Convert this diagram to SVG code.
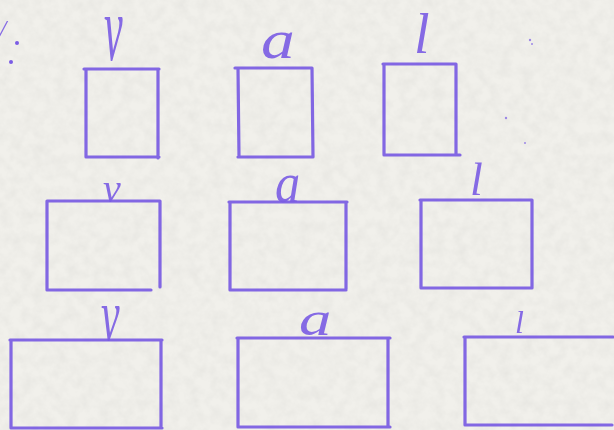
<svg xmlns="http://www.w3.org/2000/svg" width="614" height="430" viewBox="0 0 614 430">
<defs>
<filter id="paper" x="0" y="0" width="100%" height="100%">
<feTurbulence type="fractalNoise" baseFrequency="0.09" numOctaves="4" seed="7"/>
<feColorMatrix type="matrix" values="0 0 0 0 0.5  0 0 0 0 0.5  0 0 0 0 0.48  0.28 0 0 0 -0.09"/>
</filter>
<style>
.box{fill:none;stroke:#7658e2;stroke-width:3.2;stroke-linecap:round;stroke-linejoin:round;opacity:0.9}
.lbl{font-family:"Liberation Serif","DejaVu Serif",serif;font-style:italic;fill:#7a5ce4;opacity:0.9}
.speck{fill:#7a5ce4}
</style>
</defs>
<rect width="614" height="430" fill="#f1f0eb"/>
<rect width="614" height="430" filter="url(#paper)"/>
<g id="mark">
<text class="lbl" x="-1" y="38" font-size="26">/</text>
<circle class="speck" cx="17" cy="43" r="2"/>
<circle class="speck" cx="11" cy="62" r="2"/>
</g>
<g id="specks" opacity="0.7">
<circle class="speck" cx="530" cy="40" r="1.2"/>
<circle class="speck" cx="532" cy="44" r="1"/>
<circle class="speck" cx="506" cy="118" r="1.2"/>
<circle class="speck" cx="525" cy="143" r="1"/>
</g>
<g id="connectors"/>
<g id="node-r1-v">
<path class="box" d="M84 69 L159 69 M86 69 L86 157 M158 69 L158 158 M86 157 L159 157"/>
<text class="lbl" transform="translate(104 60) scale(1 2.2)" font-size="42">v</text>
</g>
<g id="node-r1-a">
<path class="box" d="M235 68 L312 68 M238 68 L239 157 M312 68 L313 157 M238 157 L313 157"/>
<text class="lbl" transform="translate(261 58) scale(1.3 1.05)" font-size="52">a</text>
</g>
<g id="node-r1-l">
<path class="box" d="M383 64 L456 64 M384 64 L384 155 M456 64 L456 154 M384 155 L460 155"/>
<text class="lbl" x="414" y="53" font-size="56">l</text>
</g>
<g id="node-r2-v">
<path class="box" d="M47 201 L160 201 M47 201 L47 290 M160 201 L160 287 M47 290 L151 290"/>
<text class="lbl" transform="translate(103 202) scale(1 1.05)" font-size="40">v</text>
</g>
<g id="node-r2-a">
<path class="box" d="M229 202 L347 202 M230 202 L230 290 M346 202 L346 289 M231 290 L346 290"/>
<text class="lbl" transform="translate(275 202) scale(1.05 1.2)" font-size="48">a</text>
</g>
<g id="node-r2-l">
<path class="box" d="M420 200 L532 200 M421 200 L421 288 M532 200 L532 288 M421 288 L532 288"/>
<text class="lbl" x="470" y="195" font-size="46">l</text>
</g>
<g id="node-r3-v">
<path class="box" d="M10 340 L162 340 M11 340 L11 428 M161 340 L161 428 M11 428 L162 428"/>
<text class="lbl" transform="translate(101 340) scale(1 1.75)" font-size="42">v</text>
</g>
<g id="node-r3-a">
<path class="box" d="M237 338 L390 338 M238 338 L238 427 M388 338 L388 427 M238 427 L390 427"/>
<text class="lbl" transform="translate(299 335) scale(1.35 1)" font-size="48">a</text>
</g>
<g id="node-r3-l">
<path class="box" d="M464 337 L613 337 M465 337 L465 425 M465 425 L612 425"/>
<text class="lbl" x="515" y="333" font-size="32">l</text>
</g>
</svg>
